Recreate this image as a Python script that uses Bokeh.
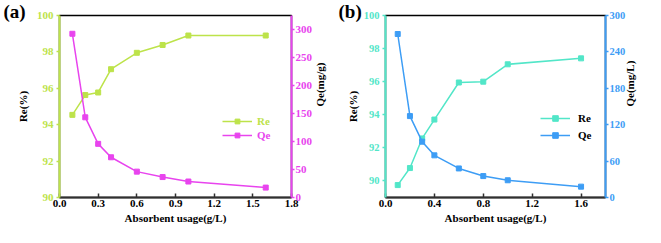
import math
from bokeh.plotting import figure
from bokeh.models import (Range1d, LinearAxis, FixedTicker, CustomJSTickFormatter,
                          Legend, LegendItem, Title)
from bokeh.layouts import row
from bokeh.embed import file_html
from bokeh.resources import INLINE

# ---------------- data ----------------
dose = [0.1, 0.2, 0.3, 0.4, 0.6, 0.8, 1.0, 1.6]
re_a = [94.54, 95.63, 95.77, 97.05, 97.95, 98.38, 98.9, 98.9]
qe_a = [293.0, 143.5, 96.0, 72.0, 46.3, 36.6, 28.6, 17.7]
re_b = [89.75, 90.78, 92.57, 93.71, 95.95, 96.0, 97.05, 97.41]
qe_b = [269.5, 134.2, 92.0, 69.5, 47.9, 35.3, 28.4, 17.9]

xticks_a = [0.0, 0.3, 0.6, 0.9, 1.2, 1.5, 1.8]
xticks_b = [0.0, 0.4, 0.8, 1.2, 1.6]
reticks = [90, 92, 94, 96, 98, 100]
qticks_a = [0, 50, 100, 150, 200, 250, 300]
qticks_b = [0, 60, 120, 180, 240, 300]

FONT = "Liberation Serif"
A_RE, A_QE = "#bde34a", "#e844ee"
B_RE, B_QE = "#52e6c8", "#3d9df5"
AX = "#303030"


def style_axis(ax, color, tick_in=0, tick_out=3, fs="11px"):
    ax.axis_line_color = color
    ax.axis_line_width = 2
    ax.major_tick_line_color = color
    ax.major_tick_line_width = 1.5
    ax.major_tick_in = tick_in
    ax.major_tick_out = tick_out
    ax.minor_tick_line_color = None
    ax.major_label_text_color = color
    ax.major_label_text_font = FONT
    ax.major_label_text_font_style = "bold"
    ax.major_label_text_font_size = fs
    ax.major_label_standoff = 3
    ax.axis_label_text_font = FONT
    ax.axis_label_text_font_style = "bold"
    ax.axis_label_text_font_size = "11px"
    ax.axis_label_text_color = "black"
    ax.axis_label_standoff = 5


def make_panel(width, mb_left, mb_right, yr, qr, xticks, qticks, re, qe,
               c_re, c_qe, qlabel, fs, lstand, tag, tag_offset):
    p = figure(width=width, height=227, x_range=Range1d(0, 1.8), y_range=Range1d(*yr),
               output_backend="svg", toolbar_location=None,
               min_border_left=mb_left, min_border_right=mb_right,
               min_border_top=15, min_border_bottom=30)
    p.add_layout(Title(text=tag, align="left", offset=tag_offset, standoff=-12,
                       text_font=FONT, text_font_style="bold", text_font_size="19px",
                       text_color="black"), "above")
    p.grid.visible = False
    p.outline_line_color = "black"
    p.outline_line_width = 1.5
    p.extra_y_ranges = {"q": Range1d(*qr)}

    p.xaxis.ticker = FixedTicker(ticks=xticks)
    p.xaxis.formatter = CustomJSTickFormatter(code="return tick.toFixed(1);")
    p.xaxis.axis_label = "Absorbent usage(g/L)"
    style_axis(p.xaxis[0], AX, tick_in=4, tick_out=0)
    p.xaxis.major_label_text_color = "black"
    p.xaxis.major_label_standoff = 2
    p.xaxis.axis_label_standoff = 2

    p.yaxis.ticker = FixedTicker(ticks=reticks)
    p.yaxis.axis_label = "Re(%)"
    style_axis(p.yaxis[0], c_re, fs=fs)
    p.yaxis.axis_label_standoff = lstand

    qax = LinearAxis(y_range_name="q", ticker=FixedTicker(ticks=qticks), axis_label=qlabel)
    style_axis(qax, c_qe, fs=fs)
    qax.axis_label_standoff = lstand
    qax.major_label_standoff = 1
    qax.axis_label_orientation = math.pi / 2
    p.add_layout(qax, "right")

    l1 = p.line(dose, re, line_color=c_re, line_width=1.5)
    s1 = p.scatter(dose, re, marker="square", size=5, fill_color=c_re, line_color=c_re)
    l2 = p.line(dose, qe, line_color=c_qe, line_width=1.5, y_range_name="q")
    s2 = p.scatter(dose, qe, marker="square", size=5, fill_color=c_qe, line_color=c_qe,
                   y_range_name="q")
    return p, (l1, s1), (l2, s2)


def legend(items, loc, color, standoff, gh, spacing):
    return Legend(items=items, location=loc, padding=0, margin=0, spacing=spacing,
                  glyph_width=30, glyph_height=gh, label_height=gh,
                  label_standoff=standoff, border_line_color=None,
                  background_fill_alpha=0, label_text_font=FONT,
                  label_text_font_style="bold", label_text_font_size="11px",
                  label_text_color=color)


# panel (a)
pa, ra, qa = make_panel(335, 59, 39, (90, 100), (0, 325.7), xticks_a, qticks_a,
                        re_a, qe_a, A_RE, A_QE, "Qe(mg/g)", "11px", 5, "(a)", -56)
pa.add_layout(legend([LegendItem(label="Re", renderers=list(ra))], (163, 70), A_RE, 5, 12, 0))
pa.add_layout(legend([LegendItem(label="Qe", renderers=list(qa))], (163, 56), A_QE, 5, 12, 0))

# panel (b)
pb, rb, qb = make_panel(310, 50, 34, (89.0, 100), (0, 300), xticks_b, qticks_b,
                        re_b, qe_b, B_RE, B_QE, "Qe(mg/L)", "10.5px", 2, "(b)", -47)
pb.add_layout(legend([LegendItem(label="Re", renderers=list(rb)),
                      LegendItem(label="Qe", renderers=list(qb))],
                     (155, 55), "black", 8, 14, 3))

layout = row(pa, pb)
open("out.html", "w").write(file_html(layout, INLINE))
